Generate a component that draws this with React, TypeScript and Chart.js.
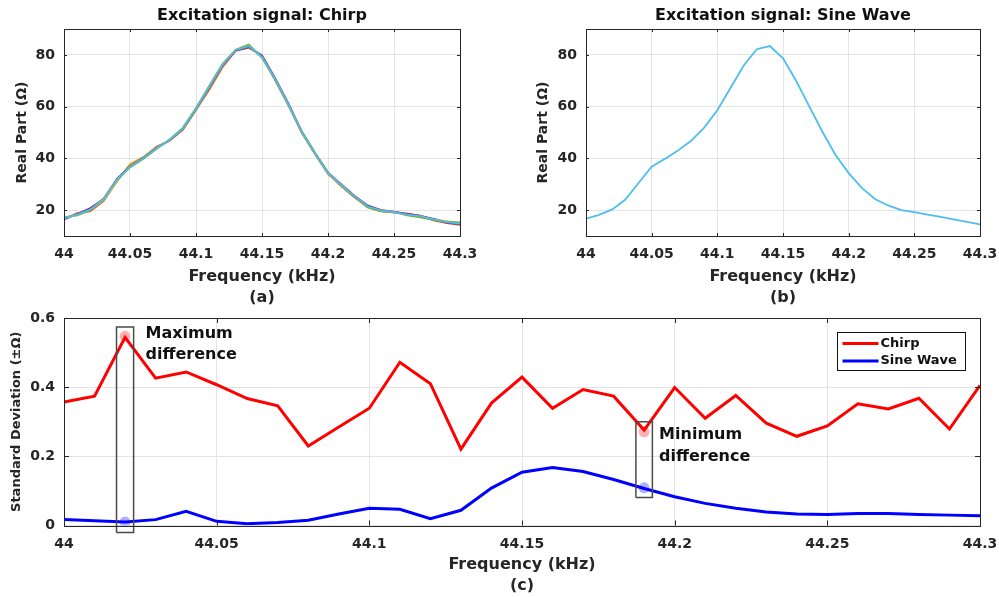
import React, { useEffect, useRef } from "react";
import { Chart, registerables } from "chart.js";
Chart.register(...registerables);

const FONT = "'DejaVu Sans', 'Liberation Sans', sans-serif";
const INK = "#262626";
const GRID = "#e4e4e4";

// ---------- data ----------
const frequencyKHz = [
  44.0, 44.01, 44.02, 44.03, 44.04, 44.05, 44.06, 44.07, 44.08, 44.09, 44.1,
  44.11, 44.12, 44.13, 44.14, 44.15, 44.16, 44.17, 44.18, 44.19, 44.2, 44.21,
  44.22, 44.23, 44.24, 44.25, 44.26, 44.27, 44.28, 44.29, 44.3,
];

const freqTicks = [44, 44.05, 44.1, 44.15, 44.2, 44.25, 44.3];
const freqTickLabels = ["44", "44.05", "44.1", "44.15", "44.2", "44.25", "44.3"];
const realTicks = [20, 40, 60, 80];
const realTickLabels = ["20", "40", "60", "80"];
const stdTicks = [0, 0.2, 0.4, 0.6];
const stdTickLabels = ["0", "0.2", "0.4", "0.6"];

// (a) chirp excitation, repeated runs
const chirpRunCyan = [16.8, 18.3, 20.3, 24.1, 31.7, 36.8, 40.0, 43.9, 47.1, 51.5, 59.2, 67.7, 76.2, 81.8, 83.4, 79.2, 70.7, 60.9, 50.3, 42.0, 34.3, 29.8, 25.4, 21.5, 19.9, 19.2, 18.3, 17.7, 16.4, 15.4, 14.8];
const chirpRunRed = [16.5, 18.8, 19.6, 23.5, 31.2, 37.5, 40.3, 44.5, 46.8, 51.0, 58.8, 66.5, 75.2, 81.5, 82.8, 79.6, 70.2, 60.5, 50.0, 41.8, 34.0, 29.3, 25.0, 21.2, 19.6, 19.0, 18.6, 17.9, 16.0, 15.0, 14.3];
const chirpRunGreen = [17.2, 18.0, 20.0, 24.5, 31.5, 36.5, 39.8, 43.6, 47.3, 51.8, 59.5, 68.0, 76.5, 82.0, 84.0, 79.0, 70.4, 60.6, 50.6, 42.3, 34.6, 29.6, 25.2, 21.0, 19.5, 19.3, 18.0, 17.2, 16.2, 15.5, 15.3];
const chirpRunPurple = [16.4, 18.5, 20.8, 24.3, 32.0, 37.0, 40.2, 44.0, 47.0, 51.3, 59.0, 67.3, 76.0, 81.6, 83.0, 79.8, 71.0, 61.2, 50.5, 42.2, 34.5, 30.0, 25.6, 21.8, 20.0, 19.4, 18.5, 17.8, 16.6, 15.2, 14.6];
const chirpRunYellow = [17.0, 18.6, 20.1, 23.8, 31.0, 37.8, 40.5, 44.2, 46.9, 51.0, 58.6, 67.0, 75.8, 81.9, 83.6, 78.9, 70.5, 60.7, 50.1, 41.9, 34.2, 29.5, 25.3, 21.6, 20.1, 19.1, 18.2, 17.5, 16.5, 15.6, 14.7];

// (b) sine excitation
const sineReal = [16.7, 18.2, 20.3, 24.1, 30.5, 36.8, 39.8, 43.0, 46.8, 51.9, 58.6, 67.2, 75.8, 82.2, 83.4, 78.7, 70.0, 60.1, 50.3, 41.3, 34.3, 28.6, 24.3, 21.8, 20.0, 19.2, 18.3, 17.4, 16.4, 15.5, 14.5];

// (c) standard deviation
const chirpStd = [0.357, 0.374, 0.544, 0.426, 0.444, 0.407, 0.367, 0.346, 0.23, 0.285, 0.339, 0.472, 0.41, 0.221, 0.354, 0.429, 0.339, 0.393, 0.374, 0.276, 0.399, 0.31, 0.376, 0.296, 0.258, 0.288, 0.352, 0.337, 0.368, 0.279, 0.405];
const sineStd = [0.017, 0.014, 0.01, 0.017, 0.041, 0.012, 0.005, 0.009, 0.015, 0.033, 0.05, 0.047, 0.02, 0.044, 0.108, 0.154, 0.168, 0.156, 0.133, 0.107, 0.083, 0.064, 0.05, 0.039, 0.033, 0.032, 0.035, 0.035, 0.032, 0.03, 0.028];

const highlightFreq = [44.02, 44.19];
const highlightChirp = [0.547, 0.271];
const highlightSine = [0.01, 0.109];

const maxBoxX = [44.0172, 44.0228];
const maxBoxY = [-0.02, 0.574];
const minBoxX = [44.1873, 44.1927];
const minBoxY = [0.081, 0.3];

const noteLines = [
  ["Maximum", "difference"],
  ["Minimum", "difference"],
];
const noteX = [44.0267, 44.1949];
const noteY = [
  [0.555, 0.494],
  [0.261, 0.198],
];

// ---------- helpers ----------
const pts = (xs: number[], ys: number[]) => xs.map((x, i) => ({ x, y: ys[i] }));
const rect = (xs: number[], ys: number[]) => [
  { x: xs[0], y: ys[0] },
  { x: xs[1], y: ys[0] },
  { x: xs[1], y: ys[1] },
  { x: xs[0], y: ys[1] },
  { x: xs[0], y: ys[0] },
];

const framePlugin = {
  id: "frame",
  afterDatasetsDraw(chart: any, _a: any, opts: any) {
    const { ctx, chartArea: a, scales } = chart;
    const len = opts.tickLen ?? 4;
    ctx.save();
    ctx.strokeStyle = INK;
    ctx.lineWidth = 1;
    ctx.beginPath();
    for (const t of scales.x.ticks) {
      const px = Math.round(scales.x.getPixelForValue(t.value)) + 0.5;
      ctx.moveTo(px, a.bottom);
      ctx.lineTo(px, a.bottom - len);
      ctx.moveTo(px, a.top);
      ctx.lineTo(px, a.top + len);
    }
    for (const t of scales.y.ticks) {
      const py = Math.round(scales.y.getPixelForValue(t.value)) + 0.5;
      ctx.moveTo(a.left, py);
      ctx.lineTo(a.left + len, py);
      ctx.moveTo(a.right, py);
      ctx.lineTo(a.right - len, py);
    }
    ctx.stroke();
    ctx.strokeRect(
      Math.round(a.left) + 0.5,
      Math.round(a.top) + 0.5,
      Math.round(a.right - a.left),
      Math.round(a.bottom - a.top)
    );
    ctx.restore();
  },
};

const headTitlePlugin = {
  id: "headTitle",
  afterDraw(chart: any, _a: any, opts: any) {
    if (!opts || !opts.text) return;
    const { ctx, chartArea: a } = chart;
    ctx.save();
    ctx.fillStyle = "#111";
    ctx.font = `bold 16px ${FONT}`;
    ctx.textAlign = "center";
    ctx.textBaseline = "middle";
    ctx.fillText(opts.text, (a.left + a.right) / 2, a.top - opts.offset);
    ctx.restore();
  },
};

const notesPlugin = {
  id: "notes",
  afterDatasetsDraw(chart: any) {
    const { ctx, scales } = chart;
    ctx.save();
    ctx.fillStyle = "#111";
    ctx.font = `bold 16px ${FONT}`;
    ctx.textAlign = "left";
    ctx.textBaseline = "middle";
    noteLines.forEach((lines, i) => {
      lines.forEach((line, j) => {
        ctx.fillText(line, scales.x.getPixelForValue(noteX[i]), scales.y.getPixelForValue(noteY[i][j]));
      });
    });
    ctx.restore();
  },
};

const boxLegendPlugin = {
  id: "boxLegend",
  afterDatasetsDraw(chart: any) {
    const { ctx, chartArea: a } = chart;
    const items = chart.data.datasets.filter((d: any) => d.inLegend);
    const w = 128;
    const h = 38;
    const x0 = Math.round(a.right - 15 - w) + 0.5;
    const y0 = Math.round(a.top + 14) + 0.5;
    ctx.save();
    ctx.fillStyle = "#fff";
    ctx.fillRect(x0, y0, w, h);
    ctx.strokeStyle = "#111";
    ctx.lineWidth = 1;
    ctx.strokeRect(x0, y0, w, h);
    ctx.font = `bold 13px ${FONT}`;
    ctx.textBaseline = "middle";
    ctx.textAlign = "left";
    items.forEach((d: any, i: number) => {
      const cy = y0 + 11 + i * 17.5;
      ctx.strokeStyle = d.borderColor;
      ctx.lineWidth = 3;
      ctx.beginPath();
      ctx.moveTo(x0 + 5, cy);
      ctx.lineTo(x0 + 41, cy);
      ctx.stroke();
      ctx.fillStyle = "#111";
      ctx.fillText(d.label, x0 + 43, cy);
    });
    ctx.restore();
  },
};

function xAxis(titleLines: string[], height: number, padBottom: number) {
  return {
    type: "linear",
    min: 44,
    max: 44.3,
    afterBuildTicks: (s: any) => {
      s.ticks = freqTicks.map((v) => ({ value: v }));
    },
    afterFit: (s: any) => {
      s.height = height;
      s.paddingLeft = 0;
      s.paddingRight = 0;
    },
    ticks: {
      autoSkip: false,
      maxRotation: 0,
      padding: 10,
      color: INK,
      font: { family: FONT, size: 14, weight: "bold" },
      callback: (_v: any, i: number) => freqTickLabels[i],
    },
    grid: { color: GRID, drawTicks: false, lineWidth: 1 },
    border: { display: false },
    title: {
      display: true,
      text: titleLines,
      color: INK,
      font: { family: FONT, size: 16, weight: "bold", lineHeight: 1.3 },
      padding: { top: 0, bottom: padBottom },
    },
  };
}

function yAxis(
  min: number,
  max: number,
  ticksArr: number[],
  labels: string[],
  width: number,
  title: string,
  titleSize: number,
  titlePad: number
) {
  return {
    type: "linear",
    min,
    max,
    afterBuildTicks: (s: any) => {
      s.ticks = ticksArr.map((v) => ({ value: v }));
    },
    afterFit: (s: any) => {
      s.width = width;
      s.paddingTop = 0;
      s.paddingBottom = 0;
    },
    ticks: {
      padding: 9,
      color: INK,
      font: { family: FONT, size: 14, weight: "bold" },
      callback: (_v: any, i: number) => labels[i],
    },
    grid: { color: GRID, drawTicks: false, lineWidth: 1 },
    border: { display: false },
    title: {
      display: true,
      text: title,
      color: INK,
      font: { family: FONT, size: titleSize, weight: "bold", lineHeight: 1.2 },
      padding: { top: titlePad, bottom: 0 },
    },
  };
}

function lineDs(label: string, ys: number[], color: string, width: number, order: number) {
  return {
    label,
    data: pts(frequencyKHz, ys),
    borderColor: color,
    backgroundColor: color,
    borderWidth: width,
    pointRadius: 0,
    tension: 0,
    fill: false,
    order,
  };
}

function configA(): any {
  return {
    type: "line",
    data: {
      datasets: [
        lineDs("Run 5", chirpRunCyan, "#4DBEEE", 1.8, 1),
        lineDs("Run 4", chirpRunGreen, "#77AC30", 1.8, 2),
        lineDs("Run 3", chirpRunPurple, "#7E2F8E", 1.8, 3),
        lineDs("Run 2", chirpRunYellow, "#EDB120", 1.8, 4),
        lineDs("Run 1", chirpRunRed, "#D95319", 1.8, 5),
      ],
    },
    options: {
      animation: false,
      responsive: false,
      layout: { padding: { top: 29, right: 39, left: 0, bottom: 0 } },
      scales: {
        x: xAxis(["Frequency (kHz)", "(a)"], 74, 2),
        y: yAxis(10, 90, realTicks, realTickLabels, 64, "Real Part (Ω)", 14, 14),
      },
      plugins: {
        legend: { display: false },
        tooltip: { enabled: false },
        frame: { tickLen: 3 },
        headTitle: { text: "Excitation signal: Chirp", offset: 13.3 },
      },
    },
    plugins: [framePlugin, headTitlePlugin],
  };
}

function configB(): any {
  return {
    type: "line",
    data: {
      datasets: [lineDs("Sine Wave", sineReal, "#4DBEEE", 1.8, 1)],
    },
    options: {
      animation: false,
      responsive: false,
      layout: { padding: { top: 29, right: 19, left: 0, bottom: 0 } },
      scales: {
        x: xAxis(["Frequency (kHz)", "(b)"], 74, 2),
        y: yAxis(10, 90, realTicks, realTickLabels, 87, "Real Part (Ω)", 14, 36),
      },
      plugins: {
        legend: { display: false },
        tooltip: { enabled: false },
        frame: { tickLen: 3 },
        headTitle: { text: "Excitation signal: Sine Wave", offset: 13.3 },
      },
    },
    plugins: [framePlugin, headTitlePlugin],
  };
}

function configC(): any {
  const chirp: any = lineDs("Chirp", chirpStd, "#ff0000", 3, 2);
  chirp.inLegend = true;
  const sine: any = lineDs("Sine Wave", sineStd, "#0000ff", 3, 3);
  sine.inLegend = true;
  const dot = (ys: number[], color: string, order: number) => ({
    label: "",
    data: pts(highlightFreq, ys),
    showLine: false,
    pointRadius: 5.5,
    pointBorderWidth: 0,
    pointBackgroundColor: color,
    borderColor: color,
    order,
  });
  const box = (xs: number[], ys: number[]) => ({
    label: "",
    data: rect(xs, ys),
    borderColor: "#4a4a4a",
    borderWidth: 1.5,
    pointRadius: 0,
    tension: 0,
    fill: false,
    clip: false,
    order: 1,
  });
  return {
    type: "line",
    data: {
      datasets: [
        chirp,
        sine,
        dot(highlightChirp, "rgba(255,80,80,0.45)", 5),
        dot(highlightSine, "rgba(80,80,255,0.45)", 5),
        box(maxBoxX, maxBoxY),
        box(minBoxX, minBoxY),
      ],
    },
    options: {
      animation: false,
      responsive: false,
      layout: { padding: { top: 18, right: 19, left: 0, bottom: 0 } },
      scales: {
        x: xAxis(["Frequency (kHz)", "(c)"], 71.5, 1),
        y: yAxis(0, 0.6, stdTicks, stdTickLabels, 64, "Standard Deviation (±Ω)", 13, 9),
      },
      plugins: {
        legend: { display: false },
        tooltip: { enabled: false },
        frame: { tickLen: 5 },
      },
    },
    plugins: [framePlugin, notesPlugin, boxLegendPlugin],
  };
}

function Panel(props: { left: number; top: number; width: number; height: number; make: () => any }) {
  const ref = useRef<HTMLCanvasElement>(null);
  useEffect(() => {
    const chart = new Chart(ref.current as HTMLCanvasElement, props.make());
    return () => chart.destroy();
  }, []);
  return (
    <canvas
      ref={ref}
      width={props.width}
      height={props.height}
      style={{ position: "absolute", left: props.left, top: props.top, width: props.width, height: props.height }}
    />
  );
}

export default function App() {
  return (
    <div style={{ position: "fixed", left: 0, top: 0, width: 999, height: 597, background: "#fff", overflow: "hidden" }}>
      <Panel left={0} top={0} width={499} height={310} make={configA} />
      <Panel left={499} top={0} width={500} height={310} make={configB} />
      <Panel left={0} top={300} width={999} height={297} make={configC} />
    </div>
  );
}
